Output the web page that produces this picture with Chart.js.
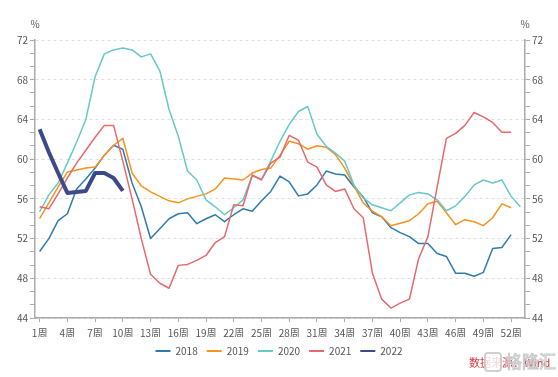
<!DOCTYPE html>
<html lang="zh">
<head>
<meta charset="UTF-8">
<title>开工率周度对比</title>
<script src="https://cdn.jsdelivr.net/npm/chart.js"></script>
<style>
  html, body { margin: 0; padding: 0; background: #fff; }
  #wrap { width: 558px; height: 377px; position: relative; }
</style>
</head>
<body>
<div id="wrap"><canvas id="myChart" width="558" height="377"></canvas></div>
<script>
// weeks 1..53
const weeks = [];
for (let i = 1; i <= 53; i++) weeks.push(i + '周');

const y2018 = [50.7, 52.0, 53.8, 54.5, 57.0, 58.0, 59.1, 60.4, 61.4, 61.0,
  57.6, 55.2, 52.0, 53.0, 54.0, 54.5, 54.6, 53.5, 54.0, 54.4,
  53.7, 54.4, 55.0, 54.75, 55.8, 56.75, 58.3, 57.7, 56.3, 56.5,
  57.4, 58.8, 58.5, 58.4, 57.2, 56.2, 54.6, 54.2, 53.1, 52.6,
  52.2, 51.5, 51.5, 50.5, 50.2, 48.5, 48.5, 48.2, 48.6, 51.0,
  51.1, 52.4];
const y2019 = [54.0, 55.6, 57.2, 58.7, 58.9, 59.1, 59.2, 60.4, 61.4, 62.1,
  58.6, 57.3, 56.7, 56.25, 55.8, 55.6, 56.0, 56.25, 56.5, 57.0,
  58.1, 58.0, 57.9, 58.6, 58.95, 59.1, 60.4, 61.8, 61.55, 61.0,
  61.35, 61.2, 60.45, 59.1, 57.3, 55.6, 54.75, 54.2, 53.3, 53.55,
  53.8, 54.5, 55.5, 55.75, 54.6, 53.4, 53.9, 53.7, 53.3, 54.1,
  55.5, 55.1];
const y2020 = [54.7, 56.4, 57.6, 59.6, 61.7, 64.0, 68.3, 70.6, 71.0, 71.2,
  71.0, 70.3, 70.6, 68.9, 65.0, 62.3, 58.8, 57.9, 55.9, 55.2,
  54.4, 55.1, 55.9, 58.3, 58.0, 59.8, 61.8, 63.5, 64.8, 65.3,
  62.5, 61.3, 60.6, 59.8, 57.4, 56.1, 55.4, 55.1, 54.8, 55.6,
  56.4, 56.65, 56.5, 55.9, 54.8, 55.3, 56.25, 57.4, 57.9, 57.6,
  57.9, 56.25, 55.2];
const y2021 = [55.2, 55.0, 56.5, 58.1, 59.6, 60.9, 62.2, 63.4, 63.4, 59.8,
  56.0, 52.0, 48.4, 47.5, 47.0, 49.3, 49.4, 49.8, 50.3, 51.6,
  52.2, 55.4, 55.3, 58.4, 57.9, 59.6, 60.2, 62.4, 61.9, 59.7,
  59.2, 57.4, 56.75, 57.0, 55.0, 54.1, 48.5, 45.9, 45.0, 45.5,
  45.9, 50.0, 52.2, 57.2, 62.1, 62.6, 63.4, 64.7, 64.25, 63.7,
  62.7, 62.7];
const y2022 = [63.0, 60.7, 58.6, 56.6, 56.7, 56.8, 58.6, 58.6, 58.1, 56.8];

const yTicks = [44, 48, 52, 56, 60, 64, 68, 72];

const font = '"Noto Sans CJK SC", "Noto Sans", sans-serif';
const textColor = '#555';
const axisColor = '#aaa';

// major ticks every 4, two minor ticks between
function buildYTicks(axis) {
  const t = [];
  for (let i = 0; i < yTicks.length; i++) {
    t.push({ value: yTicks[i], major: true });
    if (i < yTicks.length - 1) {
      const step = (yTicks[i + 1] - yTicks[i]) / 3;
      t.push({ value: yTicks[i] + step });
      t.push({ value: yTicks[i] + 2 * step });
    }
  }
  axis.ticks = t;
}

function yAxis(position) {
  return {
    position: position,
    min: 44,
    max: 72,
    afterBuildTicks: buildYTicks,
    afterFit: (s) => { s.width = position === 'left' ? 35 : 33; },
    border: { display: true, color: axisColor, width: 1.5, dash: [3, 3] },
    grid: {
      drawOnChartArea: position === 'left',
      color: (c) => (c.tick && c.tick.major) ? '#dedede' : 'rgba(0,0,0,0)',
      tickColor: axisColor,
      tickLength: 5,
      lineWidth: 1,
      tickBorderDash: []
    },
    ticks: {
      padding: 2,
      color: textColor,
      font: { family: font, size: 10 },
      autoSkip: false,
      callback: (v, i, ticks) => ticks[i].major ? Math.round(v) : ''
    }
  };
}

const series = [
  { label: '2018', data: y2018, color: '#2f7bb1', width: 1.5 },
  { label: '2019', data: y2019, color: '#f7931e', width: 1.5 },
  { label: '2020', data: y2020, color: '#68c8c6', width: 1.5 },
  { label: '2021', data: y2021, color: '#e8696b', width: 1.5 },
  { label: '2022', data: y2022, color: '#3d4a8a', width: 4 }
];

const extraText = {
  id: 'extraText',
  afterDraw(chart) {
    const ctx = chart.ctx;
    const area = chart.chartArea;
    ctx.save();
    ctx.fillStyle = textColor;
    ctx.font = '10px ' + font;
    ctx.textAlign = 'center';
    ctx.textBaseline = 'middle';
    ctx.fillText('%', area.left, 24);
    ctx.fillText('%', area.right, 24);
    // source note + watermark
    ctx.textAlign = 'left';
    ctx.fillStyle = '#d9363e';
    ctx.font = '11px ' + font;
    ctx.fillText('数据来源：Wind', 469, 363);
    ctx.globalAlpha = 0.8;
    ctx.fillStyle = '#fff';
    ctx.fillRect(484, 352, 18, 20);
    ctx.strokeStyle = '#c4c4c4';
    ctx.lineWidth = 2;
    ctx.beginPath();
    ctx.roundRect(485, 353, 16, 18, 3);
    ctx.stroke();
    ctx.font = '17px ' + font;
    ctx.lineWidth = 1;
    ctx.fillStyle = 'rgba(255,255,255,0.85)';
    ctx.strokeStyle = '#bdbdbd';
    ctx.fillText('格隆汇', 505, 362);
    ctx.strokeText('格隆汇', 505, 362);
    ctx.restore();
  }
};

const ctx = document.getElementById('myChart').getContext('2d');
const myChart = new Chart(ctx, {
  type: 'line',
  data: {
    labels: weeks,
    datasets: series.map((s, i) => ({
      label: s.label,
      data: s.data,
      borderColor: s.color,
      backgroundColor: s.color,
      borderWidth: s.width,
      pointRadius: 0,
      tension: 0,
      fill: false,
      borderJoinStyle: 'round',
      order: series.length - 1 - i
    }))
  },
  options: {
    responsive: false,
    animation: false,
    devicePixelRatio: 1,
    layout: { padding: { top: 40, bottom: 11, left: 0, right: 0 } },
    plugins: {
      tooltip: { enabled: false },
      legend: {
        position: 'bottom',
        labels: {
          usePointStyle: true,
          pointStyle: 'line',
          pointStyleWidth: 15,
          padding: 9,
          color: textColor,
          font: { family: font, size: 10 },
          sort: (a, b) => a.datasetIndex - b.datasetIndex,
          generateLabels: (chart) => Chart.defaults.plugins.legend.labels.generateLabels(chart)
            .map(l => Object.assign(l, { lineWidth: 2 }))
        }
      }
    },
    scales: {
      x: {
        offset: true,
        afterFit: (s) => { s.height = 19; },
        border: { display: true, color: axisColor, width: 1.5 },
        grid: {
          offset: false,
          drawOnChartArea: false,
          tickLength: 4,
          color: (c) => (c.index % 3 === 0 && c.index < 52) ? axisColor : 'rgba(0,0,0,0)'
        },
        ticks: {
          autoSkip: false,
          maxRotation: 0,
          padding: 5,
          color: textColor,
          font: { family: font, size: 10 },
          callback: function (v, i) {
            return (i % 3 === 0 && i < 52) ? this.getLabelForValue(v) : '';
          }
        }
      },
      y: yAxis('left'),
      y2: yAxis('right')
    }
  },
  plugins: [extraText]
});
</script>
</body>
</html>
